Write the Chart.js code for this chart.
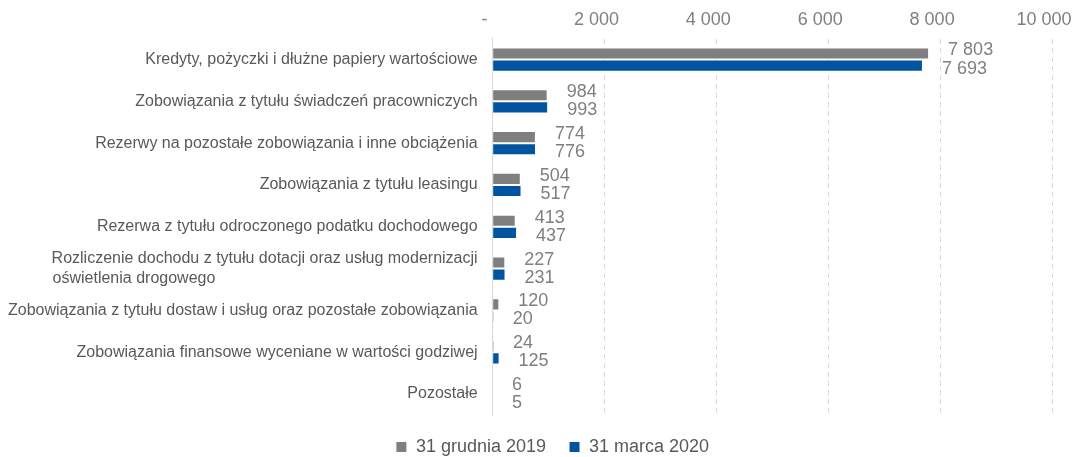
<!DOCTYPE html>
<html>
<head>
<meta charset="utf-8">
<script src="https://cdn.jsdelivr.net/npm/chart.js@4"></script>
<style>
html,body{margin:0;padding:0;background:#fff;}
#wrap{width:1074px;height:457px;position:relative;}
</style>
</head>
<body>
<div id="wrap"><canvas id="c" width="1074" height="457"></canvas></div>
<script>
const categories = [
  "Kredyty, pożyczki i dłużne papiery wartościowe",
  "Zobowiązania z tytułu świadczeń pracowniczych",
  "Rezerwy na pozostałe zobowiązania i inne obciążenia",
  "Zobowiązania z tytułu leasingu",
  "Rezerwa z tytułu odroczonego podatku dochodowego",
  ["Rozliczenie dochodu z tytułu dotacji oraz usług modernizacji", "oświetlenia drogowego"],
  "Zobowiązania z tytułu dostaw i usług oraz pozostałe zobowiązania",
  "Zobowiązania finansowe wyceniane w wartości godziwej",
  "Pozostałe"
];
const seriesNames = ["31 grudnia 2019", "31 marca 2020"];
const dec2019 = [7803, 984, 774, 504, 413, 227, 120, 24, 6];
const mar2020 = [7693, 993, 776, 517, 437, 231, 20, 125, 5];
const xTicks = [0, 2000, 4000, 6000, 8000, 10000];

const FONT = "'Liberation Sans', Arial, sans-serif";
const CAT_SIZE = 16;
function fmt(v){
  if (v === 0) return "-";
  return String(v).replace(/\B(?=(\d{3})+(?!\d))/g, " ");
}
const mctx = document.createElement('canvas').getContext('2d');
mctx.font = CAT_SIZE + "px " + FONT;
function padLines(lbl){
  if (!Array.isArray(lbl)) return lbl;
  const w = Math.max(...lbl.map(l => mctx.measureText(l).width));
  return lbl.map(l => { let s = l; while (mctx.measureText(s + " ").width <= w + 1) s += " "; return s; });
}

const labelPlugin = {
  id: 'valLabels',
  afterLayout(chart){
    if (chart.legend) { chart.legend.left += 30; chart.legend.right += 30; }
  },
  afterDatasetsDraw(chart){
    const ctx = chart.ctx;
    ctx.save();
    ctx.font = "18px " + FONT;
    ctx.fillStyle = "#7f7f7f";
    ctx.textAlign = "left";
    ctx.textBaseline = "middle";
    chart.data.datasets.forEach((ds, di) => {
      const meta = chart.getDatasetMeta(di);
      meta.data.forEach((el, i) => {
        const dy = di === 0 ? -3 : 3;
        ctx.fillText(fmt(ds.data[i]), el.x + 19, el.y + dy);
      });
    });
    ctx.restore();
  }
};

new Chart(document.getElementById('c'), {
  type: 'bar',
  data: {
    labels: categories,
    datasets: [
      { label: seriesNames[0], data: dec2019, backgroundColor: '#7f7f7f', borderColor: '#ffffff', borderWidth: 1, categoryPercentage: 0.58, barPercentage: 1 },
      { label: seriesNames[1], data: mar2020, backgroundColor: '#0054a0', borderColor: '#ffffff', borderWidth: 1, categoryPercentage: 0.58, barPercentage: 1 }
    ]
  },
  options: {
    indexAxis: 'y',
    responsive: false,
    animation: false,
    layout: { padding: { left: -7, right: 22, top: 1, bottom: -9 } },
    plugins: {
      legend: {
        position: 'bottom',
        labels: {
          boxWidth: 11, boxHeight: 11, padding: 23,
          color: '#595959', font: { family: FONT, size: 18 }
        }
      },
      tooltip: { enabled: false }
    },
    scales: {
      x: {
        position: 'top',
        min: 0, max: 10000,
        afterBuildTicks(axis){ axis.ticks = xTicks.map(v => ({ value: v })); },
        afterFit(axis){ axis.paddingRight = 0; axis.paddingLeft = 0; },
        ticks: {
          callback: v => fmt(v),
          color: '#7f7f7f',
          font: { family: FONT, size: 18 },
          padding: 8,
          labelOffset: -8,
          maxRotation: 0
        },
        grid: {
          color: ctx => ctx.tick && ctx.tick.value === 0 ? 'rgba(0,0,0,0)' : '#d9d9d9',
          drawTicks: false,
          tickLength: 0
        },
        border: { display: false, dash: [5, 4] }
      },
      y: {
        ticks: {
          callback: (v, i) => padLines(categories[i]),
          color: '#595959',
          font: { family: FONT, size: CAT_SIZE },
          padding: 15,
          autoSkip: false
        },
        grid: { display: false, drawTicks: false },
        border: { display: true, color: '#d9d9d9', width: 1 }
      }
    }
  },
  plugins: [labelPlugin]
});
</script>
</body>
</html>
